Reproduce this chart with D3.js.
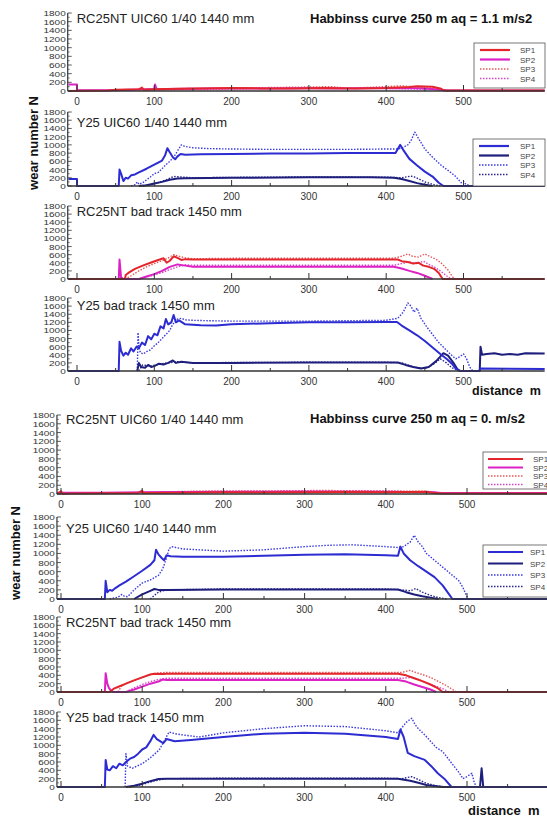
<!DOCTYPE html>
<html><head><meta charset="utf-8">
<script src="https://cdn.jsdelivr.net/npm/d3@7"></script>
<style>
body{margin:0;background:#fff}
svg{display:block}
text{font-family:"Liberation Sans",Arial,sans-serif}
</style>
</head><body>
<svg id="c" width="547" height="819"></svg>
<script>
// ---------- labels / ticks ----------
const xTicks = [0, 100, 200, 300, 400, 500];
const xMinor = [50, 150, 250, 350, 450, 550];
const yTicks = [0, 200, 400, 600, 800, 1000, 1200, 1400, 1600, 1800];
const yMinor = [100, 300, 500, 700, 900, 1100, 1300, 1500, 1700];
const seriesNames = ["SP1", "SP2", "SP3", "SP4"];
const groupTitles = ["Habbinss curve 250 m aq = 1.1 m/s2", "Habbinss curve 250 m aq = 0. m/s2"];
const panelTitles = ["RC25NT UIC60 1/40 1440 mm", "Y25 UIC60 1/40 1440 mm", "RC25NT bad track 1450 mm", "Y25 bad track 1450 mm"];
const yLabel = "wear number N";
const xLabel = "distance  m";

// ---------- data: [distance m, wear number N] ----------
// aq = 1.1 m/s2
const a_rc_uic_sp1 = [[-11,0],[40,10],[50,30],[80,40],[84,80],[86,30],[100,40],[130,50],[160,60],[200,70],[240,60],[280,60],[320,70],[360,60],[400,70],[430,90],[440,110],[460,100],[470,60],[475,10],[605,10]];
const a_rc_uic_sp2 = [[-11,150],[0,150],[0,20],[50,20],[90,40],[100,45],[101,150],[103,40],[140,50],[180,60],[220,55],[260,60],[300,65],[340,60],[380,65],[420,70],[450,60],[470,30],[480,10],[605,10]];
const a_rc_uic_sp3 = [[80,30],[150,60],[250,80],[330,100],[350,60],[420,120],[440,90],[470,50]];
const a_rc_uic_sp4 = [[90,20],[200,50],[300,70],[400,60],[460,40]];

const a_y_uic_sp1 = [[-11,170],[0,170],[0,0],[54,0],[55,400],[57,300],[60,120],[63,200],[66,180],[70,260],[75,280],[80,330],[90,420],[100,520],[110,620],[114,750],[117,920],[120,820],[124,700],[127,650],[130,720],[134,780],[140,760],[160,770],[200,780],[250,790],[300,790],[350,800],[400,800],[412,800],[418,1000],[422,880],[430,660],[440,500],[450,350],[460,230],[468,80],[474,0],[605,0]];
const a_y_uic_sp2 = [[80,0],[90,20],[100,60],[110,100],[120,150],[130,180],[140,190],[200,200],[300,210],[380,210],[410,200],[420,170],[430,120],[440,70],[450,30],[460,0]];
const a_y_uic_sp3 = [[70,0],[75,30],[78,100],[80,40],[85,80],[90,150],[95,220],[100,300],[105,330],[110,420],[115,520],[120,600],[125,700],[130,850],[135,1000],[140,960],[150,930],[170,910],[200,900],[250,890],[300,890],[350,890],[400,900],[415,900],[420,920],[428,1000],[432,1100],[437,1310],[442,1150],[450,900],[460,700],[470,520],[480,380],[490,230],[497,80],[500,120],[503,40],[510,0]];
const a_y_uic_sp4 = [[85,0],[100,50],[115,150],[125,230],[135,220],[150,200],[200,210],[300,220],[400,215],[420,200],[432,240],[438,210],[450,100],[462,30],[470,0]];

const a_rc_bad_sp1 = [[-11,0],[62,0],[63,100],[68,170],[75,250],[85,330],[95,400],[105,470],[112,510],[116,400],[120,450],[125,560],[130,520],[135,470],[140,490],[150,480],[200,480],[300,480],[400,480],[415,480],[420,440],[428,420],[435,380],[442,400],[448,330],[455,300],[462,250],[468,150],[473,0],[605,0]];
const a_rc_bad_sp2 = [[54,0],[55,480],[57,40],[60,0],[80,0],[90,60],[100,120],[110,200],[120,300],[130,360],[140,330],[150,300],[200,300],[300,300],[410,300],[420,260],[430,200],[440,150],[450,80],[460,0]];
const a_rc_bad_sp3 = [[62,0],[70,80],[80,200],[90,300],[100,380],[110,450],[118,520],[125,600],[132,560],[140,520],[150,500],[200,510],[300,510],[410,510],[420,560],[428,620],[434,560],[442,540],[450,620],[456,560],[465,480],[472,380],[480,220],[486,50],[490,0]];
const a_rc_bad_sp4 = [[80,0],[90,50],[100,100],[110,160],[120,230],[130,300],[140,350],[150,340],[200,340],[300,340],[410,340],[420,380],[430,420],[440,380],[448,440],[455,360],[462,300],[470,200],[478,80],[484,0]];

const a_y_bad_sp1 = [[-11,0],[54,0],[55,720],[57,500],[60,380],[63,450],[66,400],[70,560],[73,480],[77,600],[80,560],[84,700],[88,640],[92,860],[96,780],[100,920],[104,880],[108,1100],[112,1050],[115,1280],[118,1150],[122,1200],[125,1380],[128,1200],[132,1250],[140,1150],[160,1130],[180,1120],[200,1150],[250,1180],[300,1200],[350,1200],[400,1210],[414,1210],[420,1120],[430,1000],[440,880],[450,740],[460,580],[470,420],[478,300],[485,180],[490,60],[495,0],[520,0],[522,60],[605,50]];
const a_y_bad_sp2 = [[78,0],[80,200],[83,100],[88,80],[92,150],[96,100],[100,120],[106,180],[112,160],[118,200],[124,260],[128,200],[135,230],[150,200],[200,200],[300,210],[400,210],[415,210],[425,150],[435,100],[445,60],[455,100],[465,250],[474,440],[480,380],[487,200],[492,50],[496,0],[521,0],[522,600],[524,400],[530,420],[540,440],[550,400],[560,420],[570,400],[580,440],[605,430]];
const a_y_bad_sp3 = [[78,0],[79,950],[80,600],[82,450],[86,420],[90,480],[95,520],[100,620],[105,700],[110,800],[115,900],[120,1000],[123,1120],[126,1200],[130,1280],[135,1300],[140,1260],[150,1250],[170,1240],[200,1230],[250,1230],[300,1230],[350,1240],[400,1250],[415,1300],[422,1450],[428,1680],[432,1600],[436,1450],[440,1550],[445,1300],[452,1100],[460,900],[468,700],[476,550],[484,400],[490,300],[495,350],[500,420],[504,300],[508,100],[512,0]];
const a_y_bad_sp4 = [[80,0],[85,150],[95,120],[110,180],[130,230],[150,200],[200,210],[300,215],[400,215],[420,200],[435,100],[450,60],[460,150],[470,300],[478,200],[485,80],[495,0]];

// aq = 0 m/s2
const b_rc_uic_sp1 = [[-5,0],[0,60],[2,0],[10,10],[95,20],[100,80],[101,20],[150,30],[200,40],[250,35],[300,40],[350,45],[400,40],[450,50],[460,20],[470,10],[640,10]];
const b_rc_uic_sp2 = [[-5,30],[50,30],[100,40],[200,50],[300,55],[400,50],[460,40],[470,20],[640,20]];
const b_rc_uic_sp3 = [[100,20],[150,60],[250,70],[320,80],[400,70],[455,60]];
const b_rc_uic_sp4 = [[100,40],[200,60],[300,50],[400,60],[460,40]];

const b_y_uic_sp1 = [[-5,0],[54,0],[55,400],[57,150],[60,200],[63,180],[67,240],[72,300],[80,380],[90,500],[100,620],[110,750],[115,850],[117,1080],[120,980],[124,900],[127,850],[130,960],[135,940],[150,930],[200,930],[250,950],[300,970],[350,980],[400,960],[415,950],[418,1150],[422,1000],[430,850],[440,720],[450,600],[460,480],[470,300],[478,100],[482,0],[640,0]];
const b_y_uic_sp2 = [[90,0],[100,100],[110,180],[115,220],[120,200],[130,200],[200,210],[300,210],[400,210],[415,210],[425,150],[435,100],[445,60],[455,30],[465,0]];
const b_y_uic_sp3 = [[60,0],[70,40],[75,100],[78,60],[82,50],[90,200],[100,350],[110,420],[120,520],[125,650],[130,900],[133,1100],[136,1150],[150,1100],[200,1050],[250,1080],[300,1150],[330,1180],[360,1190],[400,1150],[415,1130],[422,1150],[430,1250],[435,1400],[440,1250],[445,1150],[450,1000],[460,850],[470,700],[480,550],[490,400],[495,250],[500,50],[503,0]];
const b_y_uic_sp4 = [[110,0],[115,80],[120,150],[125,180],[130,200],[200,220],[300,220],[400,220],[420,200],[430,180],[437,230],[445,150],[455,80],[465,30],[475,0]];

const b_rc_bad_sp1 = [[-5,0],[60,0],[65,80],[70,120],[80,200],[90,280],[100,350],[110,420],[115,440],[125,430],[130,440],[200,440],[300,440],[400,440],[415,440],[425,400],[435,330],[445,260],[455,180],[465,80],[470,0],[640,0]];
const b_rc_bad_sp2 = [[54,0],[55,450],[57,200],[59,100],[62,20],[64,0],[80,0],[90,60],[100,130],[110,200],[120,250],[125,300],[130,290],[200,290],[300,290],[400,290],[415,290],[425,250],[435,180],[445,120],[455,60],[462,0]];
const b_rc_bad_sp3 = [[70,0],[75,150],[80,200],[90,280],[100,350],[110,420],[120,460],[130,470],[200,470],[300,470],[400,470],[420,470],[430,520],[435,480],[445,420],[455,350],[465,250],[475,150],[483,50],[487,0]];
const b_rc_bad_sp4 = [[80,0],[90,100],[100,180],[110,250],[120,300],[130,330],[200,330],[300,330],[400,330],[420,330],[432,350],[440,300],[450,220],[460,150],[470,80],[478,0]];

const b_y_bad_sp1 = [[-5,0],[54,0],[55,650],[57,420],[60,400],[64,500],[68,450],[72,560],[76,520],[80,600],[85,680],[90,720],[95,800],[100,900],[105,950],[110,1100],[114,1250],[118,1150],[122,1100],[126,1050],[130,1150],[140,1100],[160,1130],[200,1200],[250,1280],[300,1300],[350,1280],[400,1200],[415,1150],[418,1380],[422,1200],[427,820],[435,740],[448,650],[456,500],[464,330],[472,200],[481,0],[640,0]];
const b_y_bad_sp2 = [[80,0],[90,30],[100,80],[110,140],[120,190],[130,200],[200,200],[300,200],[400,200],[415,200],[430,150],[440,100],[450,50],[470,0],[516,0],[518,450],[520,0],[640,0]];
const b_y_bad_sp3 = [[79,0],[80,800],[82,500],[88,450],[91,480],[100,560],[110,700],[121,890],[127,1100],[133,1320],[140,1280],[150,1250],[170,1200],[200,1300],[250,1400],[300,1470],[350,1450],[400,1350],[415,1300],[425,1550],[432,1650],[436,1500],[440,1400],[448,1250],[455,1100],[462,950],[470,850],[480,600],[490,350],[495,200],[500,250],[506,330],[509,100],[512,0]];
const b_y_bad_sp4 = [[85,0],[100,60],[115,150],[130,200],[200,210],[300,210],[400,210],[420,200],[432,250],[440,180],[450,90],[462,30],[475,0]];

// ---------- layout (pixels) ----------
const groups = [
  { x0: 77, x500: 463.5, axisFrom: -12, axisTo: 605, titleX: 310, titleY: 23,
    yLabelX: 38, yLabelY: 143, xLabelX: 472, xLabelY: 395, xLabelSize: 12.5 },
  { x0: 61, x500: 467, axisFrom: -5, axisTo: 640, titleX: 310, titleY: 423,
    yLabelX: 20, yLabelY: 553, xLabelX: 468, xLabelY: 815, xLabelSize: 13 }
];
const panels = [
  { g:0, top:13,  base:91,  tdy:10, data:[a_rc_uic_sp1,a_rc_uic_sp2,a_rc_uic_sp3,a_rc_uic_sp4], kind:"rc", legend:{x:474,y:43,w:71,h:45,lx:480,lw:30,tx:520,dy:9.5} },
  { g:0, top:112, base:186, tdy:15, data:[a_y_uic_sp1,a_y_uic_sp2,a_y_uic_sp3,a_y_uic_sp4], kind:"y", legend:{x:473,y:139,w:72,h:47,lx:479,lw:30,tx:520,dy:9.5} },
  { g:0, top:206, base:279, tdy:10, data:[a_rc_bad_sp1,a_rc_bad_sp2,a_rc_bad_sp3,a_rc_bad_sp4], kind:"rc" },
  { g:0, top:298, base:371, tdy:12, data:[a_y_bad_sp1,a_y_bad_sp2,a_y_bad_sp3,a_y_bad_sp4], kind:"y" },
  { g:1, top:415, base:494, tdy:9,  data:[b_rc_uic_sp1,b_rc_uic_sp2,b_rc_uic_sp3,b_rc_uic_sp4], kind:"rc", legend:{x:483,y:452,w:80,h:37,lx:488,lw:35,tx:533,dy:8.5} },
  { g:1, top:517, base:599, tdy:16, data:[b_y_uic_sp1,b_y_uic_sp2,b_y_uic_sp3,b_y_uic_sp4], kind:"y", legend:{x:483,y:545,w:80,h:52,lx:488,lw:35,tx:530,dy:11.5} },
  { g:1, top:617, base:692, tdy:10, data:[b_rc_bad_sp1,b_rc_bad_sp2,b_rc_bad_sp3,b_rc_bad_sp4], kind:"rc" },
  { g:1, top:712, base:787, tdy:10, data:[b_y_bad_sp1,b_y_bad_sp2,b_y_bad_sp3,b_y_bad_sp4], kind:"y" }
];
const titleIdx = [0,1,2,3,0,1,2,3];
const styles = {
  rc: [{c:"#e3262c",w:2,d:null},{c:"#dc22c4",w:2,d:null},{c:"#e8585a",w:1.4,d:"1.5,1.5"},{c:"#d248c8",w:1.4,d:"1.5,1.5"}],
  y:  [{c:"#2c2cd2",w:2,d:null},{c:"#1e1e7c",w:2,d:null},{c:"#3a3ae2",w:1.4,d:"1.5,1.5"},{c:"#262690",w:1.4,d:"1.5,1.5"}]
};
const drawOrder = [3,2,1,0];

const svg = d3.select("#c");
const axisColor = "#333";

groups.forEach((G, gi) => {
  svg.append("text").attr("x", G.titleX).attr("y", G.titleY)
    .attr("font-size", 13).attr("font-weight", "bold").attr("fill", "#111")
    .text(groupTitles[gi]);
  svg.append("text").attr("transform", `translate(${G.yLabelX},${G.yLabelY}) rotate(-90)`)
    .attr("text-anchor", "middle").attr("font-size", 13).attr("font-weight", "bold").attr("fill", "#111")
    .text(yLabel);
  svg.append("text").attr("x", G.xLabelX).attr("y", G.xLabelY)
    .attr("font-size", G.xLabelSize).attr("font-weight", "bold").attr("fill", "#111")
    .style("white-space", "pre").text(xLabel);
});

panels.forEach((P, pi) => {
  const G = groups[P.g];
  const x = d3.scaleLinear().domain([0, 500]).range([G.x0, G.x500]);
  const y = d3.scaleLinear().domain([0, 1800]).range([P.base, P.top]);
  const g = svg.append("g");
  const ax = x(G.axisFrom);

  const line = d3.line().x(d => x(d[0])).y(d => y(d[1]));
  const st = styles[P.kind];
  drawOrder.forEach(i => {
    g.append("path").datum(P.data[i]).attr("d", line)
      .attr("fill", "none").attr("stroke", st[i].c).attr("stroke-width", st[i].w)
      .attr("stroke-linejoin", "round")
      .attr("stroke-dasharray", st[i].d);
  });

  g.append("line").attr("x1", ax).attr("x2", x(G.axisTo)).attr("y1", y(0)).attr("y2", y(0))
    .attr("stroke", axisColor).attr("stroke-width", 1.5);
  g.selectAll(".xt").data(xTicks).enter().append("line")
    .attr("x1", d => x(d)).attr("x2", d => x(d)).attr("y1", y(0)).attr("y2", y(0) - 6)
    .attr("stroke", axisColor).attr("stroke-width", 1);
  g.selectAll(".xm").data(xMinor).enter().append("line")
    .attr("x1", d => x(d)).attr("x2", d => x(d)).attr("y1", y(0)).attr("y2", y(0) - 3)
    .attr("stroke", axisColor).attr("stroke-width", 1);
  g.selectAll(".xl").data(xTicks).enter().append("text")
    .attr("x", d => x(d)).attr("y", y(0) + 14).attr("text-anchor", "middle")
    .attr("font-size", 10).attr("fill", "#333").text(d => d);

  g.append("line").attr("x1", ax).attr("x2", ax).attr("y1", y(0)).attr("y2", y(1800))
    .attr("stroke", axisColor).attr("stroke-width", 1.2);
  g.selectAll(".yt").data(yTicks).enter().append("line")
    .attr("x1", ax).attr("x2", ax + 4).attr("y1", d => y(d)).attr("y2", d => y(d))
    .attr("stroke", axisColor).attr("stroke-width", 0.8);
  g.selectAll(".ym").data(yMinor).enter().append("line")
    .attr("x1", ax).attr("x2", ax + 2).attr("y1", d => y(d)).attr("y2", d => y(d))
    .attr("stroke", axisColor).attr("stroke-width", 0.6);
  g.selectAll(".yl").data(yTicks).enter().append("text")
    .attr("transform", d => `translate(${ax - 2},${y(d) + 3}) scale(1,0.8)`)
    .attr("text-anchor", "end").attr("font-size", 10).attr("fill", "#333").text(d => d);

  g.append("text").attr("x", ax + 9).attr("y", P.top + P.tdy)
    .attr("font-size", 13).attr("fill", "#222").text(panelTitles[titleIdx[pi]]);

  if (P.legend) {
    const L = P.legend;
    g.append("rect").attr("x", L.x).attr("y", L.y).attr("width", L.w).attr("height", L.h)
      .attr("fill", "#fff").attr("stroke", "#555").attr("stroke-width", 0.8);
    seriesNames.forEach((n, i) => {
      const yy = L.y + 7 + i * L.dy;
      g.append("line").attr("x1", L.lx).attr("x2", L.lx + L.lw).attr("y1", yy).attr("y2", yy)
        .attr("stroke", st[i].c).attr("stroke-width", st[i].d ? 1.4 : 2.2)
        .attr("stroke-dasharray", st[i].d);
      g.append("text").attr("x", L.tx).attr("y", yy + 3).attr("font-size", 8)
        .attr("fill", "#444").text(n);
    });
  }
});
</script>
</body></html>
